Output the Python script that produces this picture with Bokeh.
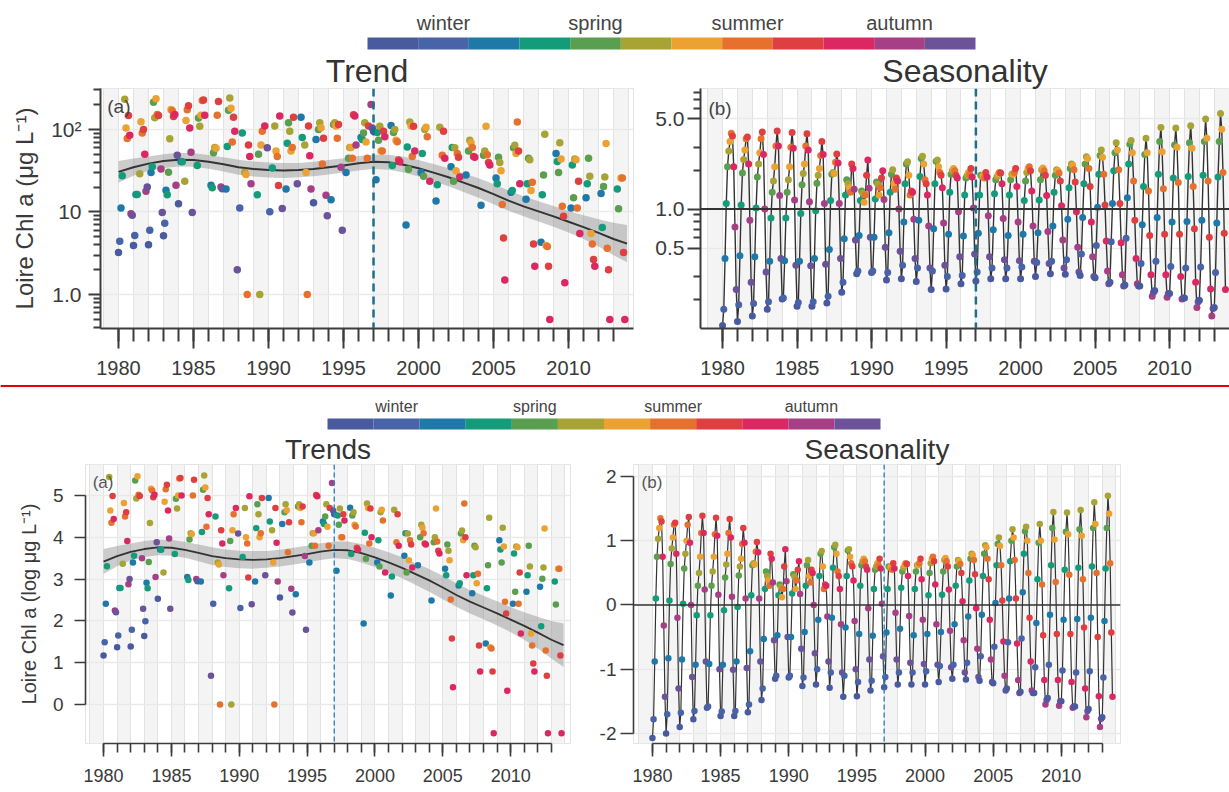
import numpy as np
from bokeh.plotting import figure
from bokeh.models import Range1d, FixedTicker, Span, Label
from bokeh.layouts import column, row
from bokeh.embed import file_html
from bokeh.resources import INLINE
from bokeh.core.properties import value

FONT = "Liberation Sans"
AXC = "#3c3c3c"

# ---------------- data ----------------
month_colors = ["#4a5a9f", "#4863a8", "#1e78a8", "#139b7a", "#5a9f4f", "#a8a335",
                "#eba232", "#e6712f", "#de3f40", "#dc2862", "#a63f86", "#6b5299"]
season_names = ["winter", "spring", "summer", "autumn"]
season_months = [2, 5, 8, 11]
years = list(range(1980, 2014))
change_year = 1997
x_major = [1980, 1985, 1990, 1995, 2000, 2005, 2010]

# observations, natural log of Chl a (ug/L), Jan..Dec per year (None = no sample)
obs_1980 = [1.17, 1.49, 2.41, 3.31, None, 5.44, 4.64, 4.35, 4.99, 4.44, 2.25, 2.21]
obs_1981 = [1.37, 1.65, 2.79, 2.79, None, 3.37, 4.82, 4.50, 4.60, 3.91, 2.88, 3.00]
obs_1982 = [1.39, 1.79, 3.40, 3.56, 5.36, 4.93, 5.46, 5.02, 4.99, None, 3.50, 2.29]
obs_1983 = [1.64, 1.99, 2.91, 2.78, 3.41, 4.34, 5.16, 5.12, 4.96, 5.02, 3.05, 3.88]
obs_1984 = [2.53, None, 3.71, 3.70, None, 3.16, 4.85, 5.15, 5.26, 4.64, 3.97, 2.29]
obs_1985 = [None, None, None, 3.60, 4.92, 4.69, 5.00, 5.41, 5.42, 5.00, None, None]
obs_1986 = [None, None, 3.05, 2.98, 3.95, 4.10, 4.08, 5.00, 5.38, None, 3.00, 2.95]
obs_1987 = [None, None, 2.94, 4.13, 5.14, 5.48, 5.19, 4.25, 4.94, 4.55, None, 0.69]
obs_1988 = [None, 2.41, None, 4.50, None, 3.40, 3.35, 0.00, 4.17, 3.85, 3.09, None]
obs_1989 = [None, None, None, 2.78, 3.91, 0.00, 4.17, 4.55, None, 4.70, None, 4.09]
obs_1990 = [None, 2.31, None, 3.53, None, 4.70, 4.00, 3.85, 3.04, 4.98, None, 2.40]
obs_1991 = [None, None, 2.94, 4.22, 4.79, 4.55, 4.00, 4.10, 4.94, None, None, 3.09]
obs_1992 = [None, None, 4.94, 4.38, None, 4.17, 3.40, 0.00, 4.70, 3.87, 2.94, None]
obs_1993 = [2.56, None, 4.32, None, 4.60, 4.79, 4.65, 3.64, 4.36, None, 2.77, 2.20]
obs_1994 = [None, None, 2.64, None, 4.74, 4.79, 4.70, 4.36, 4.74, None, 3.55, 1.79]
obs_1995 = [None, None, 3.40, None, 3.80, 4.10, 4.10, 3.80, 5.01, 4.98, 4.17, None]
obs_1996 = [None, None, 4.38, 4.32, 4.50, 4.79, 4.25, 3.80, 4.70, None, 5.30, 4.64]
obs_1997 = [4.55, None, 3.20, 4.52, 4.30, 4.69, 4.00, 4.00, 4.55, 4.40, None, None]
obs_1998 = [None, None, 4.71, 3.60, 4.52, 4.60, 4.30, 4.26, 3.75, 3.70, None, None]
obs_1999 = [None, None, 1.94, 4.11, 3.49, 4.81, 4.70, 3.85, 4.69, 4.00, None, None]
obs_2000 = [None, None, 3.40, 3.93, 3.30, 4.60, 4.66, 4.40, None, 3.16, None, None]
obs_2001 = [None, None, 2.61, 3.06, None, 4.66, None, 3.88, 4.55, 3.80, None, None]
obs_2002 = [None, None, 3.56, 4.10, 3.16, 4.09, 3.45, 3.93, 3.83, 3.28, None, None]
obs_2003 = [None, None, 3.33, None, 4.00, 4.30, 4.23, 4.10, 3.85, 3.83, None, None]
obs_2004 = [None, None, 2.49, None, 3.88, 4.00, 4.69, 3.90, 3.68, 3.61, None, None]
obs_2005 = [None, None, 3.25, 3.09, 3.83, 3.68, 3.45, 2.51, 1.58, 0.41, None, None]
obs_2006 = [None, None, 2.85, 2.90, 4.09, 4.16, 3.93, 4.81, 4.00, 3.09, None, None]
obs_2007 = [None, None, 2.66, 3.09, 3.80, 3.76, 2.90, 3.13, 1.41, 0.79, None, None]
obs_2008 = [None, None, 1.46, 2.78, 3.33, 4.47, 1.37, 1.34, 0.79, -0.69, None, None]
obs_2009 = [None, None, 3.93, 3.71, 3.40, 4.23, 3.78, 2.46, 2.18, 0.33, None, None]
obs_2010 = [None, None, 2.41, 3.61, 2.70, 3.78, 3.76, 2.41, 3.16, 1.70, None, None]
obs_2011 = [None, None, 2.70, 3.09, 3.80, 3.30, 1.70, 1.41, 0.98, 0.79, None, None]
obs_2012 = [None, None, 2.82, 1.87, 3.01, 3.28, 4.21, 1.29, 0.69, -0.69, None, None]
obs_2013 = [None, None, None, 2.94, 2.39, None, 3.25, 3.25, 1.17, -0.69, None, None]

# seasonal component (log units), Jan..Dec per year
sea_1980 = [-2.07, -1.78, -0.88, 0.10, 0.75, 1.03, 1.20, 1.35, 1.30, 0.75, -0.32, -1.43]
sea_1981 = [-2.00, -1.70, -0.83, 0.07, 0.64, 0.88, 1.05, 1.25, 1.28, 0.80, -0.20, -1.30]
sea_1982 = [-1.90, -1.68, -0.85, 0.02, 0.57, 0.80, 1.00, 1.25, 1.37, 0.97, 0.00, -1.12]
sea_1983 = [-1.78, -1.65, -0.93, -0.16, 0.30, 0.50, 0.75, 1.12, 1.39, 1.12, 0.24, -0.88]
sea_1984 = [-1.60, -1.58, -0.92, -0.16, 0.30, 0.52, 0.75, 1.10, 1.36, 1.08, 0.16, -1.00]
sea_1985 = [-1.73, -1.66, -0.93, -0.08, 0.43, 0.63, 0.80, 1.12, 1.34, 1.05, 0.13, -1.01]
sea_1986 = [-1.73, -1.65, -0.88, -0.03, 0.46, 0.60, 0.72, 0.95, 1.20, 0.97, 0.10, -0.98]
sea_1987 = [-1.67, -1.55, -0.72, 0.15, 0.62, 0.65, 0.63, 0.83, 0.98, 0.82, 0.10, -0.88]
sea_1988 = [-1.48, -1.30, -0.53, 0.25, 0.52, 0.45, 0.38, 0.30, 0.80, 0.72, 0.35, -0.55]
sea_1989 = [-1.15, -1.10, -0.47, 0.15, 0.32, 0.28, 0.12, 0.25, 0.60, 0.87, 0.37, -0.50]
sea_1990 = [-1.13, -1.10, -0.50, 0.18, 0.48, 0.44, 0.25, 0.38, 0.55, 0.68, 0.17, -0.68]
sea_1991 = [-1.26, -1.13, -0.42, 0.30, 0.62, 0.70, 0.45, 0.35, 0.55, 0.50, 0.00, -0.75]
sea_1992 = [-1.24, -1.00, -0.23, 0.45, 0.80, 0.84, 0.60, 0.25, 0.32, 0.30, -0.18, -0.88]
sea_1993 = [-1.29, -1.05, -0.20, 0.58, 0.90, 0.94, 0.80, 0.52, 0.45, 0.25, -0.30, -1.05]
sea_1994 = [-1.43, -1.10, -0.35, 0.45, 0.85, 0.87, 0.75, 0.65, 0.60, 0.38, -0.25, -1.00]
sea_1995 = [-1.42, -1.20, -0.45, 0.30, 0.62, 0.68, 0.72, 0.68, 0.60, 0.55, -0.05, -0.85]
sea_1996 = [-1.33, -1.18, -0.48, 0.25, 0.55, 0.60, 0.65, 0.62, 0.72, 0.57, 0.02, -0.80]
sea_1997 = [-1.28, -1.12, -0.43, 0.25, 0.60, 0.58, 0.60, 0.55, 0.65, 0.57, -0.12, -0.85]
sea_1998 = [-1.24, -1.05, -0.37, 0.27, 0.52, 0.58, 0.62, 0.65, 0.64, 0.45, -0.17, -0.90]
sea_1999 = [-1.24, -1.05, -0.47, 0.25, 0.52, 0.62, 0.62, 0.65, 0.72, 0.40, -0.23, -0.92]
sea_2000 = [-1.24, -1.03, -0.45, 0.15, 0.50, 0.65, 0.72, 0.75, 0.68, 0.32, -0.30, -0.93]
sea_2001 = [-1.20, -0.95, -0.42, 0.16, 0.52, 0.70, 0.73, 0.68, 0.60, 0.24, -0.40, -0.97]
sea_2002 = [-1.15, -0.93, -0.30, 0.30, 0.60, 0.70, 0.68, 0.64, 0.50, 0.06, -0.55, -1.05]
sea_2003 = [-1.16, -0.90, -0.18, 0.38, 0.72, 0.80, 0.78, 0.70, 0.48, -0.05, -0.68, -1.12]
sea_2004 = [-1.18, -0.80, -0.15, 0.45, 0.80, 0.93, 0.90, 0.72, 0.40, -0.23, -0.85, -1.20]
sea_2005 = [-1.22, -0.65, 0.03, 0.62, 0.95, 1.05, 0.92, 0.62, 0.07, -0.57, -1.10, -1.33]
sea_2006 = [-1.30, -0.58, 0.10, 0.68, 1.00, 1.18, 1.05, 0.70, 0.10, -0.60, -1.17, -1.37]
sea_2007 = [-1.35, -0.52, 0.20, 0.80, 1.15, 1.22, 1.00, 0.50, -0.20, -0.88, -1.33, -1.37]
sea_2008 = [-1.37, -0.97, -0.28, 0.40, 0.97, 1.26, 1.00, 0.32, -0.47, -1.17, -1.55, -1.48]
sea_2009 = [-1.45, -0.93, -0.15, 0.62, 1.20, 1.45, 1.02, 0.36, -0.45, -1.17, -1.57, -1.50]
sea_2010 = [-1.50, -1.02, -0.23, 0.55, 1.14, 1.44, 1.10, 0.47, -0.45, -1.20, -1.60, -1.58]
sea_2011 = [-1.58, -1.05, -0.22, 0.58, 1.18, 1.48, 1.08, 0.40, -0.35, -1.30, -1.75, -1.65]
sea_2012 = [-1.62, -1.03, -0.20, 0.60, 1.20, 1.60, 1.26, 0.50, -0.50, -1.42, -1.90, -1.77]
sea_2013 = [-1.75, -1.13, -0.25, 0.57, 1.20, 1.70, 1.42, 0.65, -0.43, -1.43, None, None]

# smooth trend (log units) with its standard-error half width
trend_x = [1980, 1981, 1982, 1983, 1984, 1985, 1986, 1987, 1988, 1989, 1990, 1991,
           1992, 1993, 1994, 1995, 1996, 1997, 1998, 1999, 2000, 2001, 2002, 2003,
           2004, 2005, 2006, 2007, 2008, 2009, 2010, 2011, 2012, 2013, 2013.9]
trend_y = [3.42, 3.55, 3.65, 3.72, 3.76, 3.75, 3.70, 3.63, 3.55, 3.50, 3.47, 3.46,
           3.47, 3.50, 3.55, 3.60, 3.66, 3.70, 3.69, 3.62, 3.52, 3.40, 3.27, 3.12,
           2.97, 2.80, 2.62, 2.46, 2.32, 2.18, 2.03, 1.88, 1.72, 1.55, 1.42]
trend_se = [0.30, 0.24, 0.20, 0.19, 0.19, 0.19, 0.19, 0.20, 0.21, 0.21, 0.21, 0.21,
            0.20, 0.20, 0.20, 0.20, 0.20, 0.20, 0.21, 0.22, 0.23, 0.24, 0.25, 0.26,
            0.27, 0.28, 0.28, 0.28, 0.28, 0.29, 0.30, 0.33, 0.38, 0.45, 0.52]

obs_rows = [obs_1980, obs_1981, obs_1982, obs_1983, obs_1984, obs_1985, obs_1986,
            obs_1987, obs_1988, obs_1989, obs_1990, obs_1991, obs_1992, obs_1993,
            obs_1994, obs_1995, obs_1996, obs_1997, obs_1998, obs_1999, obs_2000,
            obs_2001, obs_2002, obs_2003, obs_2004, obs_2005, obs_2006, obs_2007,
            obs_2008, obs_2009, obs_2010, obs_2011, obs_2012, obs_2013]
sea_rows = [sea_1980, sea_1981, sea_1982, sea_1983, sea_1984, sea_1985, sea_1986,
            sea_1987, sea_1988, sea_1989, sea_1990, sea_1991, sea_1992, sea_1993,
            sea_1994, sea_1995, sea_1996, sea_1997, sea_1998, sea_1999, sea_2000,
            sea_2001, sea_2002, sea_2003, sea_2004, sea_2005, sea_2006, sea_2007,
            sea_2008, sea_2009, sea_2010, sea_2011, sea_2012, sea_2013]


def flatten(rows):
    xs, ys, cs = [], [], []
    for yr, r in zip(years, rows):
        for m, v in enumerate(r):
            if v is None:
                continue
            xs.append(yr + m / 12.0)
            ys.append(v)
            cs.append(month_colors[m])
    return np.array(xs), np.array(ys), cs


obs_x, obs_v, obs_c = flatten(obs_rows)
sea_x, sea_v, sea_c = flatten(sea_rows)
tr_x = np.array(trend_x)
tr_y = np.array(trend_y)
tr_se = np.array(trend_se)


# ---------------- helpers ----------------
def header(width, height, bar_left_px, bar_right_px, bar_top, bar_bottom, label_y, fsize,
           separator=False):
    # full-width frame; the month scale is set so that the bar spans bar_left..bar_right px
    seg = (bar_right_px - bar_left_px) / 12.0
    x0 = 0.5 - bar_left_px / seg
    x1 = x0 + width / seg
    p = figure(width=width, height=height, x_range=Range1d(x0, x1),
               y_range=Range1d(height, 0), toolbar_location=None, output_backend="svg",
               x_axis_location=None, y_axis_location=None, min_border=0)
    p.grid.visible = False
    p.outline_line_color = None
    if separator:
        p.add_layout(Span(location=1.5, dimension="width", line_color="#e60000",
                          line_width=2))
    m = np.arange(1, 13)
    p.quad(left=m - 0.5, right=m + 0.5, top=bar_top, bottom=bar_bottom,
           fill_color=month_colors, line_color=None)
    p.text(x=season_months, y=[label_y] * 4, text=season_names, text_align="center",
           text_baseline="middle", text_font=value(FONT), text_font_size=fsize,
           text_color="#444444")
    return p


def style_axis(ax, fsize, major_out, minor_out, lw):
    ax.major_tick_in = 0
    ax.minor_tick_in = 0
    ax.major_tick_out = major_out
    ax.minor_tick_out = minor_out
    ax.axis_line_color = AXC
    ax.axis_line_width = lw
    ax.major_tick_line_color = AXC
    ax.major_tick_line_width = lw
    ax.minor_tick_line_color = AXC
    ax.minor_tick_line_width = lw
    ax.major_label_text_font = FONT
    ax.major_label_text_font_size = fsize
    ax.major_label_text_color = "#3a3a3a"
    ax.axis_label_text_font = FONT
    ax.axis_label_text_font_style = "normal"
    ax.axis_label_text_color = "#3a3a3a"


def panel(width, height, borders, xr, yr, log, title, tsize):
    l, r, t, b = borders
    p = figure(width=width, height=height, x_range=Range1d(*xr), y_range=Range1d(*yr),
               y_axis_type="log" if log else "linear", toolbar_location=None,
               output_backend="svg", min_border_left=l, min_border_right=r,
               min_border_top=t, min_border_bottom=b, title=title)
    p.title.align = "center"
    p.title.text_font = FONT
    p.title.text_font_size = tsize
    p.title.text_font_style = "normal"
    p.title.text_color = "#333333"
    p.title.standoff = 0
    p.title.offset = 0
    p.outline_line_color = "#e4e4e4"
    p.background_fill_color = "white"
    # alternate year shading
    band_left = np.arange(1979, 2015, 2)
    p.quad(left=band_left, right=band_left + 1, bottom=yr[0], top=yr[1],
           fill_color="#f4f4f4", line_color=None, level="image")
    p.xgrid[0].ticker = FixedTicker(ticks=list(range(1979, 2016)))
    p.xgrid[0].grid_line_color = "#e2e2e2"
    p.xgrid[0].grid_line_width = 1
    p.ygrid[0].grid_line_color = "#e9e9e9"
    p.ygrid[0].grid_line_width = 1.5
    return p


# ---------------- top (log axis) ----------------
h1 = header(1229, 50, 367, 975, 37, 49, 22, "20px")

fa1 = panel(650, 334, (100, 17, 38, 56), (1978.8, 2014.33), (0.389, 312), True, "Trend", "32px")
fa1.varea(x=tr_x, y1=np.exp(tr_y - tr_se), y2=np.exp(tr_y + tr_se),
          fill_color="#8f8f8f", fill_alpha=0.45)
fa1.line(tr_x, np.exp(tr_y), line_color="#333333", line_width=2)
fa1.scatter(obs_x, np.exp(obs_v), size=7.5, fill_color=obs_c, line_color=None)
fa1.add_layout(Span(location=change_year, dimension="height", line_color="#1f6e8c",
                    line_width=2.5, line_dash="8 5"))
fa1.add_layout(Label(x=1979.25, y=255, text="(a)", text_baseline="top",
                     text_font=FONT, text_font_size="19px", text_color="#444444"))
xa = fa1.xaxis[0]
xa.ticker = FixedTicker(ticks=x_major, minor_ticks=years)
style_axis(xa, "20px", 20, 13, 2)
xa.major_label_standoff = 12
ya = fa1.yaxis[0]
ya.ticker = FixedTicker(ticks=[1, 10, 100],
                        minor_ticks=[0.4, 0.5, 0.6, 0.7, 0.8, 0.9, 2, 3, 4, 5, 6, 7, 8, 9,
                                     20, 30, 40, 50, 60, 70, 80, 90, 200, 300])
ya.major_label_overrides = {1: "1.0", 10: "10", 100: "10²"}
style_axis(ya, "21px", 12, 7, 2)
ya.axis_label = "Loire Chl a (μg L⁻¹)"
ya.axis_label_text_font_size = "24px"
ya.axis_label_standoff = 10
ya.major_label_standoff = 7

fb1 = panel(579, 334, (50, 0, 38, 56), (1978.52, 2014.02), (0.1195, 8.53), True, "Seasonality", "32px")
fb1.add_layout(Span(location=1, dimension="width", line_color="#333333", line_width=2))
fb1.line(sea_x, np.exp(sea_v), line_color="#333333", line_width=1.4)
fb1.scatter(sea_x, np.exp(sea_v), size=7, fill_color=sea_c, line_color=None)
fb1.add_layout(Span(location=change_year, dimension="height", line_color="#1f6e8c",
                    line_width=2.5, line_dash="8 5"))
fb1.add_layout(Label(x=1979.05, y=7.2, text="(b)", text_baseline="top",
                     text_font=FONT, text_font_size="19px", text_color="#444444"))
xb = fb1.xaxis[0]
xb.ticker = FixedTicker(ticks=x_major, minor_ticks=years)
style_axis(xb, "20px", 20, 13, 2)
xb.major_label_standoff = 12
yb = fb1.yaxis[0]
yb.ticker = FixedTicker(ticks=[0.5, 1, 5],
                        minor_ticks=[0.2, 0.3, 0.6, 0.7, 0.8, 0.9, 2, 3, 6, 7, 8, 9])
yb.major_label_overrides = {0.5: "0.5", 1: "1.0", 5: "5.0"}
style_axis(yb, "21px", 13, 7, 2)
yb.major_label_standoff = 3

# ---------------- bottom (linear log-units axis) ----------------
h2 = header(1229, 47, 327, 880, 34, 45, 22, "16px", separator=True)

fa2 = panel(590, 361, (85, 20, 33, 49), (1978.67, 2014.41), (-0.933, 5.742), False, "Trends", "28px")
fa2.varea(x=tr_x, y1=tr_y - tr_se, y2=tr_y + tr_se, fill_color="#8f8f8f", fill_alpha=0.45)
fa2.line(tr_x, tr_y, line_color="#333333", line_width=1.8)
fa2.scatter(obs_x, obs_v, size=6.5, fill_color=obs_c, line_color=None)
fa2.add_layout(Span(location=change_year, dimension="height", line_color="#2f86bd",
                    line_width=1.4, line_dash="5 3"))
fa2.add_layout(Label(x=1979.2, y=5.55, text="(a)", text_baseline="top",
                     text_font=FONT, text_font_size="17px", text_color="#555555"))
xa2 = fa2.xaxis[0]
xa2.ticker = FixedTicker(ticks=x_major, minor_ticks=years)
xa2.bounds = (1980, 2013)
style_axis(xa2, "18px", 13, 9, 1.6)
xa2.major_label_standoff = 12
ya2 = fa2.yaxis[0]
ya2.ticker = FixedTicker(ticks=[0, 1, 2, 3, 4, 5])
ya2.bounds = (0, 5)
style_axis(ya2, "19px", 11, 0, 1.6)
ya2.axis_label = "Loire Chl a (log μg L⁻¹)"
ya2.axis_label_text_font_size = "20px"
ya2.axis_label_standoff = 10
ya2.major_label_standoff = 11

fb2 = panel(639, 361, (43, 109, 33, 49), (1978.61, 2014.34), (-2.157, 2.188), False, "Seasonality", "28px")
fb2.add_layout(Span(location=0, dimension="width", line_color="#333333", line_width=1.6))
fb2.line(sea_x, sea_v, line_color="#333333", line_width=1.2)
fb2.scatter(sea_x, sea_v, size=6.5, fill_color=sea_c, line_color=None)
fb2.add_layout(Span(location=change_year, dimension="height", line_color="#2f86bd",
                    line_width=1.4, line_dash="5 3"))
fb2.add_layout(Label(x=1979.2, y=2.06, text="(b)", text_baseline="top",
                     text_font=FONT, text_font_size="17px", text_color="#555555"))
xb2 = fb2.xaxis[0]
xb2.ticker = FixedTicker(ticks=x_major, minor_ticks=years)
xb2.bounds = (1980, 2013)
style_axis(xb2, "18px", 13, 9, 1.6)
xb2.major_label_standoff = 12
yb2 = fb2.yaxis[0]
yb2.ticker = FixedTicker(ticks=[-2, -1, 0, 1, 2])
yb2.bounds = (-2, 2)
yb2.major_label_overrides = {-2: "-2", -1: "-1", 0: "0", 1: "1", 2: "2"}
style_axis(yb2, "19px", 13, 0, 1.6)
yb2.major_label_standoff = 4

layout = column(h1, row(fa1, fb1), h2, row(fa2, fb2))
open("out.html", "w").write(file_html(layout, INLINE))
